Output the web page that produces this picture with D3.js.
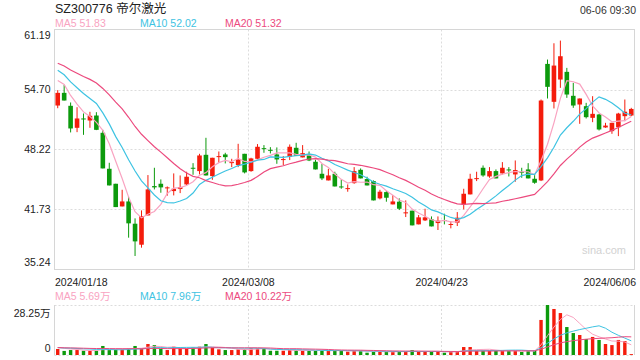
<!DOCTYPE html>
<html><head><meta charset="utf-8">
<script src="https://cdn.jsdelivr.net/npm/d3@7"></script>
<style>
body{margin:0;background:#fff}
svg{display:block}
text{font-family:Arial,"Liberation Sans","Noto Sans CJK SC",sans-serif}
</style>
</head><body><svg id="c" width="640" height="360"></svg>
<script>
const title = "SZ300776 帝尔激光";
const timeStamp = "06-06 09:30";
const dates = [
"2024/01/18","2024/01/19","2024/01/22","2024/01/23","2024/01/24","2024/01/25","2024/01/26","2024/01/29","2024/01/30","2024/01/31",
"2024/02/01","2024/02/02","2024/02/05","2024/02/06","2024/02/07","2024/02/08","2024/02/19","2024/02/20","2024/02/21","2024/02/22",
"2024/02/23","2024/02/26","2024/02/27","2024/02/28","2024/02/29","2024/03/01","2024/03/04","2024/03/05","2024/03/06","2024/03/07",
"2024/03/08","2024/03/11","2024/03/12","2024/03/13","2024/03/14","2024/03/15","2024/03/18","2024/03/19","2024/03/20","2024/03/21",
"2024/03/22","2024/03/25","2024/03/26","2024/03/27","2024/03/28","2024/03/29","2024/04/01","2024/04/02","2024/04/03","2024/04/08",
"2024/04/09","2024/04/10","2024/04/11","2024/04/12","2024/04/15","2024/04/16","2024/04/17","2024/04/18","2024/04/19","2024/04/22",
"2024/04/23","2024/04/24","2024/04/25","2024/04/26","2024/04/29","2024/04/30","2024/05/06","2024/05/07","2024/05/08","2024/05/09",
"2024/05/10","2024/05/13","2024/05/14","2024/05/15","2024/05/16","2024/05/17","2024/05/20","2024/05/21","2024/05/22","2024/05/23",
"2024/05/24","2024/05/27","2024/05/28","2024/05/29","2024/05/30","2024/05/31","2024/06/03","2024/06/04","2024/06/05","2024/06/06"];
const open = [52.97,54.34,52.94,50.56,51.57,51.35,51.89,50.02,46.13,44.51,
42.06,42.60,40.19,37.92,41.09,44.26,44.51,44.04,43.72,43.94,
44.44,46.24,45.88,47.64,45.34,47.43,47.68,46.78,46.53,47.75,
45.88,47.21,48.36,48.18,47.68,47.10,47.43,48.40,47.36,47.68,
46.89,45.59,44.87,45.59,44.22,43.97,44.58,46.02,45.02,44.80,
42.93,43.61,42.28,42.57,41.34,41.60,40.12,40.55,40.66,40.26,
40.59,40.08,40.30,42.28,43.36,45.05,46.24,45.30,45.88,45.63,
46.06,45.52,45.81,46.06,45.05,44.87,57.47,53.37,55.78,56.61,
54.02,53.08,52.90,51.64,52.00,50.60,50.20,50.63,51.82,51.89];
const high = [54.63,55.20,53.30,52.79,52.11,52.29,52.25,50.34,46.78,44.51,
43.86,43.11,40.77,41.63,45.45,46.24,44.98,44.22,45.63,45.41,
45.81,46.74,47.75,49.48,47.32,48.00,47.86,47.21,48.83,47.75,
47.32,48.80,48.69,48.47,48.44,47.50,48.76,48.94,48.69,48.00,
47.10,46.64,46.13,45.81,44.98,44.44,46.31,46.17,45.27,44.87,
43.86,43.72,43.29,42.93,42.71,41.60,41.13,41.81,40.98,40.98,
41.27,40.48,41.45,43.97,45.59,45.81,46.49,46.31,46.06,46.85,
46.31,47.03,46.24,46.74,45.52,53.62,57.94,59.70,59.99,57.04,
55.42,53.73,53.26,53.98,52.07,51.10,51.10,52.18,53.62,52.72];
const low = [52.68,53.51,50.06,50.09,49.80,50.56,50.31,46.17,44.33,41.99,
42.06,38.68,36.70,37.60,41.09,43.90,43.54,43.22,43.25,43.50,
44.37,45.48,45.52,45.41,44.94,46.78,46.71,46.31,46.31,45.63,
45.81,47.21,47.86,47.79,46.67,46.53,47.07,47.54,47.36,46.96,
46.06,44.91,44.87,44.22,43.97,43.65,44.51,45.09,44.33,42.71,
42.82,42.57,42.28,41.67,40.91,40.01,40.12,40.48,39.90,39.51,
40.12,39.69,39.94,41.74,43.36,44.80,45.27,45.16,45.09,45.52,
45.30,44.73,45.16,45.09,44.51,44.80,53.73,52.65,54.88,53.80,
52.72,50.99,51.57,51.17,50.27,50.56,49.91,49.66,51.28,51.82];
const close = [54.34,53.51,50.49,51.57,51.50,51.86,50.34,46.17,44.33,41.99,
42.60,40.23,38.28,41.02,43.90,44.12,44.12,44.12,43.97,44.15,
45.27,46.17,47.57,45.41,47.32,47.50,47.39,46.85,47.14,45.74,
47.25,48.51,48.26,48.11,47.14,47.18,48.51,47.54,47.82,47.03,
46.06,45.09,45.41,44.22,44.15,44.04,45.88,45.09,44.33,42.71,
43.65,43.00,42.60,41.81,41.42,40.01,40.88,40.88,39.90,40.52,
40.52,40.16,40.84,43.43,45.05,45.12,45.41,45.88,45.09,46.24,
45.99,45.99,45.74,45.09,44.62,53.51,54.99,57.29,58.30,54.16,
52.97,53.73,51.71,52.07,50.38,50.80,51.10,52.10,52.30,52.60];
const volume = [3.4,2.3,2.8,2.8,2.4,2.4,2.4,5.1,2.8,3.2,
3.2,3.8,5.1,3.8,6.2,5.6,3.4,2.8,4.7,3.8,
3.8,4.3,4.7,6.2,4.3,3.2,2.8,2.8,3.2,3.2,
3.8,3.8,3.8,2.4,2.4,2.4,2.8,2.8,2.4,2.4,
2.4,2.8,2.4,2.4,2.4,1.9,2.4,2.4,1.3,1.9,
1.9,1.9,1.9,1.9,1.9,2.8,1.9,1.9,1.9,1.9,
1.3,1.9,1.9,4.5,4.5,2.4,2.4,2.4,2.4,2.4,
2.4,2.4,1.7,2.4,2.4,19.8,28.25,26.0,23.7,15.8,
12.4,11.3,9.0,10.2,8.5,6.2,5.6,8.5,7.9,0.5];
// closes / volumes of the 19 sessions before the window (needed for the moving averages)
const priorCloses = [59.5,59.0,58.8,58.5,58.0,58.3,57.8,58.2,57.6,57.2,58.5,58.2,57.9,57.6,57.35,55.66,56.4,56.2,55.74];
const priorVolumes = [5.2,4.6,3.9,4.4,4.8,3.7,4.1,4.5,3.8,4.0,4.3,3.6,4.7,4.2,3.9,4.4,4.6,4.0,4.5];
const priceTicks = [61.19,54.70,48.22,41.73,35.24];
const volumeTicks = [28.25,0];
const dateTicks = ["2024/01/18","2024/03/08","2024/04/23","2024/06/06"];
const maPeriods = [5,10,20];
const priceMALegend = ["51.83","52.02","51.32"];
const volumeMALegend = ["5.69万","7.96万","10.22万"];
const watermark = "sina.com";

const maColors = ["#f9a3c1","#3ec3e2","#ec4a7e"];
const upColor = "#f41c0c", downColor = "#0c9a0c";
const gridColor = "#dcdcdc", borderColor = "#d6d6d6";

const svg = d3.select("#c");
const L = 54.5, R = 634.5, T = 29.5, B = 269.5, VT = 305, VB = 355;
const x = d3.scaleBand().domain(d3.range(dates.length)).range([L, R]).padding(0);
const step = x.step();
const cx = i => x(i) + step / 2;
const y = d3.scaleLinear().domain([35.24, 61.19]).range([B, T]);
const yv = d3.scaleLinear().domain([0, 28.25]).range([VB, VT]);

function ma(series, prior, n) {
  const all = prior.concat(series);
  return series.map((_, i) => d3.mean(all.slice(i + prior.length - n + 1, i + prior.length + 1)));
}

// title & header
svg.append("text").attr("x", 55).attr("y", 13).attr("font-size", 12.5).attr("fill", "#222").text(title);
svg.append("text").attr("x", 636).attr("y", 13.5).attr("text-anchor", "end").attr("font-size", 10.5).attr("fill", "#333").text(timeStamp);

const legX = [55, 140, 225];
maPeriods.forEach((p, k) => {
  svg.append("text").attr("x", legX[k]).attr("y", 27.3).attr("font-size", 10.5).attr("fill", maColors[k]).text("MA" + p + " " + priceMALegend[k]);
  svg.append("text").attr("x", legX[k]).attr("y", 299.5).attr("font-size", 10.5).attr("fill", maColors[k]).text("MA" + p + " " + volumeMALegend[k]);
});

// grid main
const g = svg.append("g");
priceTicks.slice(1, -1).forEach(v => {
  g.append("line").attr("x1", L).attr("x2", R).attr("y1", Math.round(y(v)) + 0.5).attr("y2", Math.round(y(v)) + 0.5)
   .attr("stroke", gridColor).attr("stroke-dasharray", "2,2");
});
const vIdx = dateTicks.slice(1, -1).map(d => dates.indexOf(d));
vIdx.forEach(i => {
  const xx = Math.round(x(i)) + 0.5;
  g.append("line").attr("x1", xx).attr("x2", xx).attr("y1", T).attr("y2", B).attr("stroke", gridColor).attr("stroke-dasharray", "2,2");
  g.append("line").attr("x1", xx).attr("x2", xx).attr("y1", VT).attr("y2", VB).attr("stroke", gridColor).attr("stroke-dasharray", "2,2");
});
g.append("rect").attr("x", L).attr("y", T).attr("width", R - L).attr("height", B - T).attr("fill", "none").attr("stroke", borderColor);
// volume frame
g.append("line").attr("x1", L).attr("x2", R).attr("y1", VT + 0.5).attr("y2", VT + 0.5).attr("stroke", gridColor).attr("stroke-dasharray", "2,2");
g.append("line").attr("x1", L).attr("x2", R).attr("y1", VB + 0.5).attr("y2", VB + 0.5).attr("stroke", gridColor).attr("stroke-dasharray", "2,2");
g.append("line").attr("x1", L).attr("x2", L).attr("y1", VT).attr("y2", VB).attr("stroke", borderColor);
g.append("line").attr("x1", R).attr("x2", R).attr("y1", VT).attr("y2", VB).attr("stroke", borderColor);

// watermark
svg.append("text").attr("x", 582).attr("y", 254).attr("font-size", 11).attr("fill", "#d2d2d2").text(watermark);

// axes
const ya = svg.append("g").attr("transform", `translate(${L},0)`)
  .call(d3.axisLeft(y).tickValues(priceTicks).tickSize(0).tickPadding(4).tickFormat(d3.format(".2f")));
ya.select(".domain").remove();
ya.selectAll("text").attr("font-size", 10.5).attr("fill", "#222").attr("font-family", null)
  .attr("dy", (d, i) => i === 0 ? "0.85em" : i === priceTicks.length - 1 ? "-0.35em" : "0.32em");

const va = svg.append("g").attr("transform", `translate(${L},0)`)
  .call(d3.axisLeft(yv).tickValues(volumeTicks).tickSize(0).tickPadding(4).tickFormat(d => d === 0 ? "0" : d3.format(".2f")(d) + "万"));
va.select(".domain").remove();
va.selectAll("text").attr("font-size", 10.5).attr("fill", "#222").attr("font-family", null)
  .attr("dy", (d, i) => i === 0 ? "1.05em" : "-0.3em");

const xa = svg.append("g").attr("transform", `translate(0,${B})`)
  .call(d3.axisBottom(x).tickValues(dateTicks.map(d => dates.indexOf(d))).tickSize(0).tickPadding(9).tickFormat(i => dates[i]));
xa.select(".domain").remove();
xa.selectAll("text").attr("font-size", 10.5).attr("fill", "#222").attr("font-family", null)
  .attr("text-anchor", (d, i) => i === 0 ? "start" : i === dateTicks.length - 1 ? "end" : "middle")
  .attr("dx", (d, i) => i === 0 ? (L + 0.5 - cx(d)) : i === dateTicks.length - 1 ? (636 - cx(d)) : (x(d) - cx(d) + 0.5));

// candles
const idx = d3.range(dates.length);
const col = i => close[i] >= open[i] ? upColor : downColor;
const bw = 4.6;
const cg = svg.append("g");
cg.selectAll("line.w").data(idx).join("line").attr("class", "w")
  .attr("x1", cx).attr("x2", cx).attr("y1", i => y(high[i])).attr("y2", i => y(low[i]))
  .attr("stroke", col).attr("stroke-width", 1);
cg.selectAll("rect.b").data(idx).join("rect").attr("class", "b")
  .attr("x", i => cx(i) - bw / 2).attr("width", bw)
  .attr("y", i => y(Math.max(open[i], close[i])))
  .attr("height", i => Math.max(1, Math.abs(y(open[i]) - y(close[i]))))
  .attr("fill", col);

// volume bars
const vw = 3.4;
svg.append("g").selectAll("rect").data(idx).join("rect")
  .attr("x", i => cx(i) - vw / 2).attr("width", vw)
  .attr("y", i => yv(volume[i])).attr("height", i => VB - yv(volume[i]))
  .attr("fill", col);

// moving averages
maPeriods.forEach((p, k) => {
  const m = ma(close, priorCloses, p);
  svg.append("path").attr("d", d3.line().x((d, i) => cx(i)).y(d => y(d))(m))
    .attr("fill", "none").attr("stroke", maColors[k]).attr("stroke-width", 1.2);
  const mv = ma(volume, priorVolumes, p);
  svg.append("path").attr("d", d3.line().x((d, i) => cx(i)).y(d => yv(d))(mv))
    .attr("fill", "none").attr("stroke", maColors[k]).attr("stroke-width", 1);
});
</script>
</body></html>
